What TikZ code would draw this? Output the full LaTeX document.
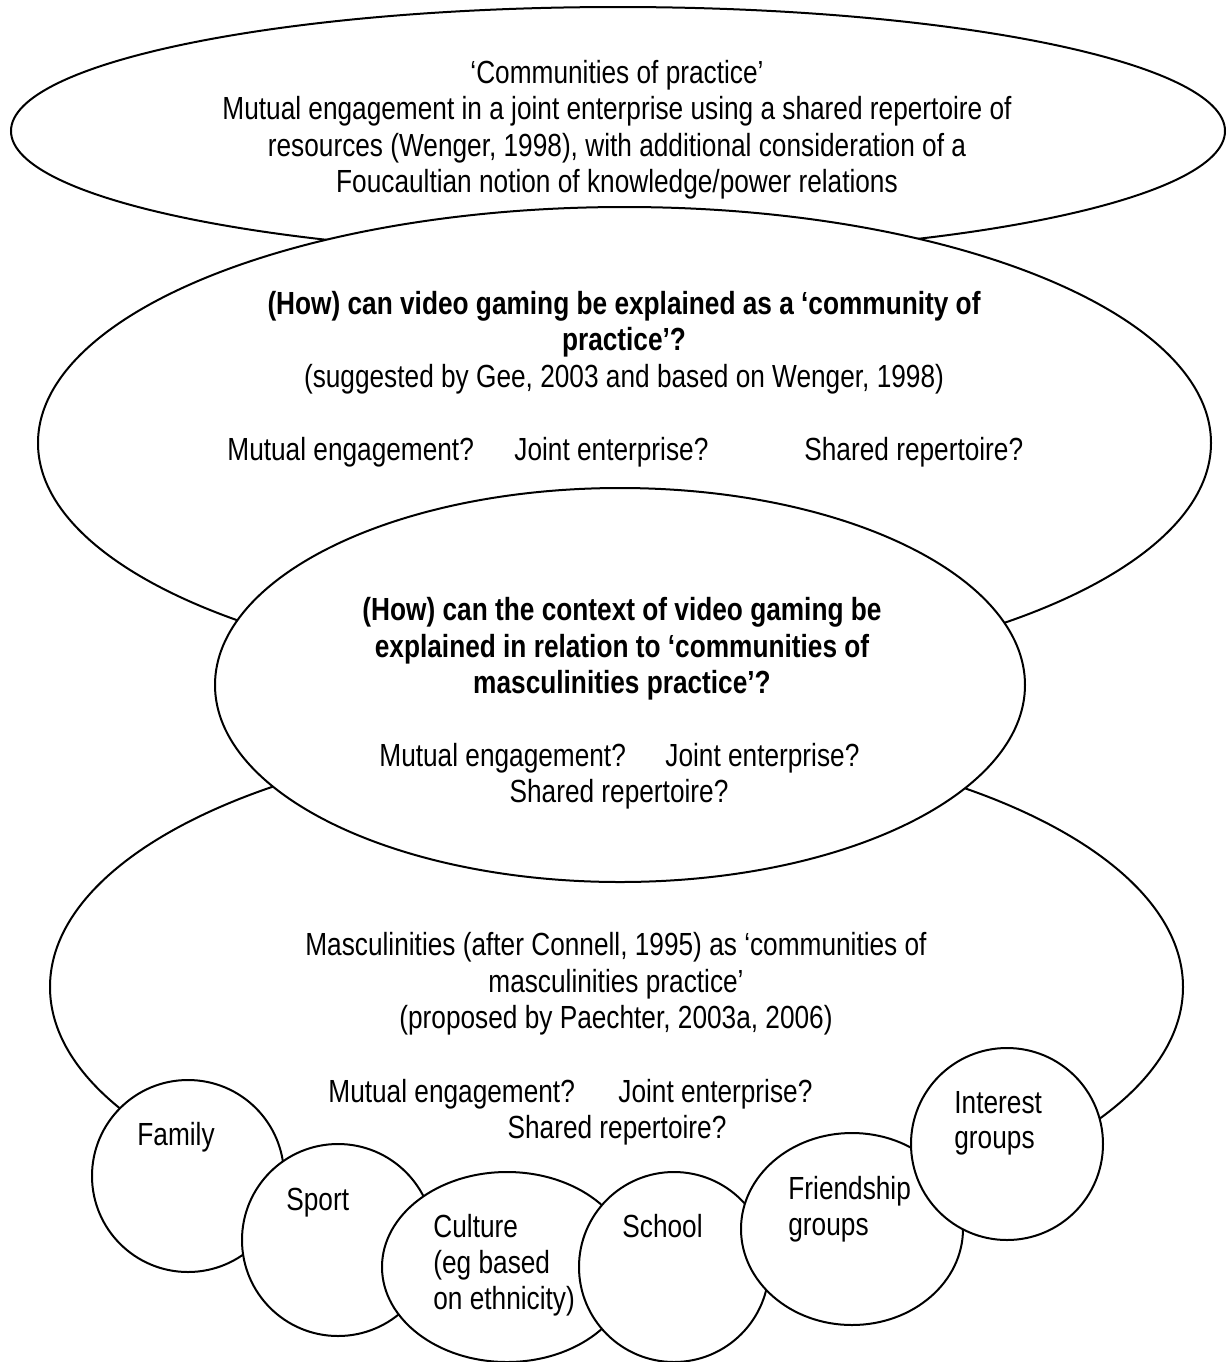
\documentclass[tikz,border=0pt]{standalone}
\usepackage{fontspec}
\setmainfont{Liberation Sans}[FakeStretch=0.82]
\usetikzlibrary{shapes.geometric}
\begin{document}
\begin{tikzpicture}[x=0.5pt,y=-0.5pt,
  shp/.style={ellipse, draw, fill=white, line width=1pt, inner sep=0pt, outer sep=0pt},
  t/.style={inner sep=0pt, anchor=base, font=\fontsize{16pt}{18.3pt}\selectfont},
  tw/.style={t, anchor=base west},
  tb/.style={t, font=\fontsize{16pt}{18.3pt}\selectfont\bfseries}]
\useasboundingbox (0,0) rectangle (1230,1362);
% big ellipses
\node[shp, minimum width=607pt, minimum height=124pt] (e1) at (618,131) {};
\node[shp, minimum width=586.5pt, minimum height=236pt] (e2) at (624.5,443) {};
\node[shp, minimum width=566.5pt, minimum height=252pt] (e4) at (616.5,987) {};
\node[shp, minimum width=405pt, minimum height=197pt] (e3) at (620,685) {};
% small circles
\node[shp, minimum width=96pt, minimum height=96pt] (family) at (188,1176) {};
\node[shp, minimum width=96pt, minimum height=96pt] (sport) at (338,1240) {};
\node[shp, minimum width=125pt, minimum height=95pt] (culture) at (507,1267) {};
\node[shp, minimum width=95pt, minimum height=95pt] (school) at (674,1267) {};
\node[shp, minimum width=111pt, minimum height=96pt] (friend) at (852,1229) {};
\node[shp, minimum width=96pt, minimum height=96pt] (interest) at (1007,1144) {};
% texts ellipse 1
\node[t] (t1a) at (617,83) {‘Communities of practice’};
\node[t] (t1b) at (617,119.5) {Mutual engagement in a joint enterprise using a shared repertoire of};
\node[t] (t1c) at (617,156) {resources (Wenger, 1998), with additional consideration of a};
\node[t] (t1d) at (617,192.5) {Foucaultian notion of knowledge/power relations};
% ellipse 2
\node[tb] (t2a) at (624,314) {(How) can video gaming be explained as a ‘community of};
\node[tb] (t2b) at (624,350.5) {practice’?};
\node[t] (t2c) at (624,387) {(suggested by Gee, 2003 and based on Wenger, 1998)};
\node[tw] (t2d) at (227,460) {Mutual engagement?};
\node[tw] (t2e) at (514,460) {Joint enterprise?};
\node[tw] (t2f) at (804,460) {Shared repertoire?};
% ellipse 3
\node[tb] (t3a) at (622,620) {(How) can the context of video gaming be};
\node[tb] (t3b) at (622,657) {explained in relation to ‘communities of};
\node[tb] (t3c) at (622,693) {masculinities practice’?};
\node[tw] (t3d) at (379,766) {Mutual engagement?};
\node[tw] (t3e) at (665,766) {Joint enterprise?};
\node[t] (t3f) at (619,802) {Shared repertoire?};
% ellipse 4
\node[t] (t4a) at (616,955.5) {Masculinities (after Connell, 1995) as ‘communities of};
\node[t] (t4b) at (616,992) {masculinities practice’};
\node[t] (t4c) at (616,1028.5) {(proposed by Paechter, 2003a, 2006)};
\node[tw] (t4d) at (328,1102.5) {Mutual engagement?};
\node[tw] (t4e) at (618,1102.5) {Joint enterprise?};
\node[t] (t4f) at (617,1138.5) {Shared repertoire?};
% circle texts
\node[tw] (tfam) at (137,1145) {Family};
\node[tw] (tspo) at (286,1210) {Sport};
\node[tw] (tcul1) at (433,1237) {Culture};
\node[tw] (tcul2) at (433,1273) {(eg based};
\node[tw] (tcul3) at (433,1309) {on ethnicity)};
\node[tw] (tsch) at (622,1237) {School};
\node[tw] (tfri1) at (788,1199) {Friendship};
\node[tw] (tfri2) at (788,1235) {groups};
\node[tw] (tint1) at (954,1113) {Interest};
\node[tw] (tint2) at (954,1148) {groups};
\end{tikzpicture}
\end{document}
